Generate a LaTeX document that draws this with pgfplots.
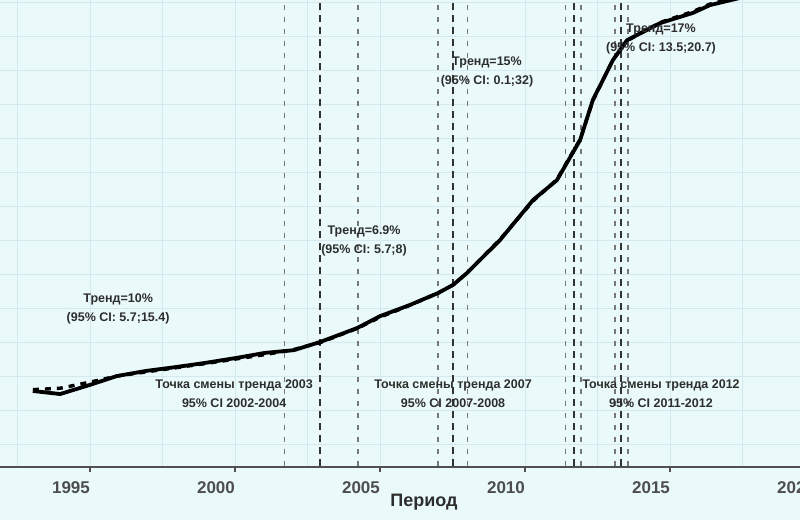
\documentclass[border=0pt]{standalone}
\usepackage{fontspec}
\setmainfont{Liberation Sans}
\usepackage{pgfplots}
\pgfplotsset{compat=1.18}

\definecolor{bgc}{RGB}{234,250,251}
\definecolor{gridc}{RGB}{212,232,240}
\definecolor{axc}{RGB}{80,80,80}
\definecolor{ticktxt}{RGB}{77,77,77}
\definecolor{txt}{RGB}{45,45,45}
\definecolor{vthin}{RGB}{120,120,120}
\definecolor{vthick}{RGB}{50,50,50}

% observed series
\pgfplotstableread{
year  val
1993.03 1.56
1993.97 1.47
1995.00 1.74
1995.93 2.00
1996.93 2.15
1997.93 2.26
1998.93 2.38
2000.03 2.53
2001.03 2.68
2002.03 2.76
2002.93 3.00
2004.21 3.41
2005.00 3.76
2006.03 4.09
2007.00 4.44
2007.52 4.68
2008.00 5.03
2009.14 6.00
2010.28 7.18
2011.10 7.76
2011.90 8.94
2012.34 10.12
2013.03 11.29
2013.52 11.88
2014.66 12.38
2015.79 12.68
2016.38 12.91
2017.41 13.12
2018.00 13.29
}\observed

% fitted joinpoint model
\pgfplotstableread{
year  val
1993.03 1.60
1993.97 1.64
1995.00 1.82
1995.93 2.00
1996.93 2.12
1997.93 2.24
1998.93 2.36
2000.03 2.50
2001.03 2.63
2002.03 2.78
2002.93 2.98
2004.21 3.40
2005.00 3.73
2006.03 4.08
2007.00 4.44
2007.52 4.68
2008.00 5.03
2009.14 6.02
2010.28 7.15
2011.10 7.78
2011.90 8.96
2012.34 10.10
2013.03 11.30
2013.52 11.86
2014.66 12.40
2015.79 12.72
2016.38 12.94
2017.41 13.16
2018.00 13.32
}\fitted

\begin{document}
\begin{tikzpicture}
\path[use as bounding box] (0pt,0pt) rectangle (800pt,520pt);
\fill[bgc] (0pt,0pt) rectangle (800pt,520pt);
\clip (0pt,0pt) rectangle (800pt,520pt);
\begin{axis}[
  at={(0pt,53pt)}, anchor=south west,
  width=829.5pt, height=467pt, scale only axis,
  xmin=1991.897, xmax=2020.5,
  ymin=-0.676, ymax=13.06,
  axis x line*=bottom, axis y line*=left,
  x axis line style={draw=axc, line width=1.3pt},
  y axis line style={draw=none},
  xtick={1995,2000,...,2020},
  minor xtick={1992.5,1997.5,...,2017.5},
  ytick={0,1,...,13},
  yticklabels={},
  ytick style={draw=none},
  grid=both,
  major grid style={gridc, line width=0.8pt},
  minor grid style={gridc, line width=0.8pt},
  tick align=outside,
  major tick length=5pt, minor tick length=0pt,
  xtick style={draw=axc, line width=1.2pt},
  xticklabel style={font=\fontsize{17}{20}\selectfont\bfseries, text=ticktxt,
    anchor=center, xshift=-19pt, yshift=-16pt},
  /pgf/number format/assume math mode=true,
  /pgf/number format/1000 sep={},
  xlabel={Период},
  xlabel style={font=\fontsize{18}{20}\selectfont\bfseries, text=txt,
    at={(axis description cs:0.5112,0)}, anchor=center, yshift=-35pt},
]
% joinpoint confidence intervals (thin) and joinpoints (thick)
\addplot[vthin, line width=1.2pt, dash pattern=on 5pt off 7pt] coordinates {(2001.72,-1) (2001.72,14)};
\addplot[vthick, line width=2.5pt, dash pattern=on 7pt off 5pt] coordinates {(2002.93,-1) (2002.93,14)};
\addplot[vthin, line width=1.2pt, dash pattern=on 5pt off 7pt] coordinates {(2004.24,-1) (2004.24,14)};
\addplot[vthin, line width=1.2pt, dash pattern=on 5pt off 7pt] coordinates {(2007.00,-1) (2007.00,14)};
\addplot[vthick, line width=2.5pt, dash pattern=on 7pt off 5pt] coordinates {(2007.52,-1) (2007.52,14)};
\addplot[vthin, line width=1.2pt, dash pattern=on 5pt off 7pt] coordinates {(2008.03,-1) (2008.03,14)};
\addplot[vthin, line width=1.2pt, dash pattern=on 5pt off 7pt] coordinates {(2011.41,-1) (2011.41,14)};
\addplot[vthick, line width=2.5pt, dash pattern=on 7pt off 5pt] coordinates {(2011.69,-1) (2011.69,14)};
\addplot[vthin, line width=1.2pt, dash pattern=on 5pt off 7pt] coordinates {(2011.93,-1) (2011.93,14)};
\addplot[vthin, line width=1.2pt, dash pattern=on 5pt off 7pt] coordinates {(2013.10,-1) (2013.10,14)};
\addplot[vthick, line width=2.5pt, dash pattern=on 7pt off 5pt] coordinates {(2013.31,-1) (2013.31,14)};
\addplot[vthin, line width=1.2pt, dash pattern=on 5pt off 7pt] coordinates {(2013.55,-1) (2013.55,14)};

\addplot[black, line width=3.8pt, line join=round] table[x=year, y=val] {\observed};
\addplot[black, line width=3.4pt, dash pattern=on 6pt off 6pt] table[x=year, y=val] {\fitted};

\begin{scope}[every node/.style={font=\fontsize{12.5}{19}\selectfont\bfseries, text=txt, align=center}]
\node at (axis cs:1995.97,3.97) {Тренд=10\%\\(95\% CI: 5.7;15.4)};
\node at (axis cs:2004.45,5.97) {Тренд=6.9\%\\(95\% CI: 5.7;8)};
\node at (axis cs:2008.69,10.94) {Тренд=15\%\\(95\% CI: 0.1;32)};
\node at (axis cs:2014.69,11.91) {Тренд=17\%\\(95\% CI: 13.5;20.7)};
\node at (axis cs:1999.97,1.47) {Точка смены тренда 2003\\95\% CI 2002-2004};
\node at (axis cs:2007.52,1.47) {Точка смены тренда 2007\\95\% CI 2007-2008};
\node at (axis cs:2014.69,1.47) {Точка смены тренда 2012\\95\% CI 2011-2012};
\end{scope}
\end{axis}
\end{tikzpicture}
\end{document}
